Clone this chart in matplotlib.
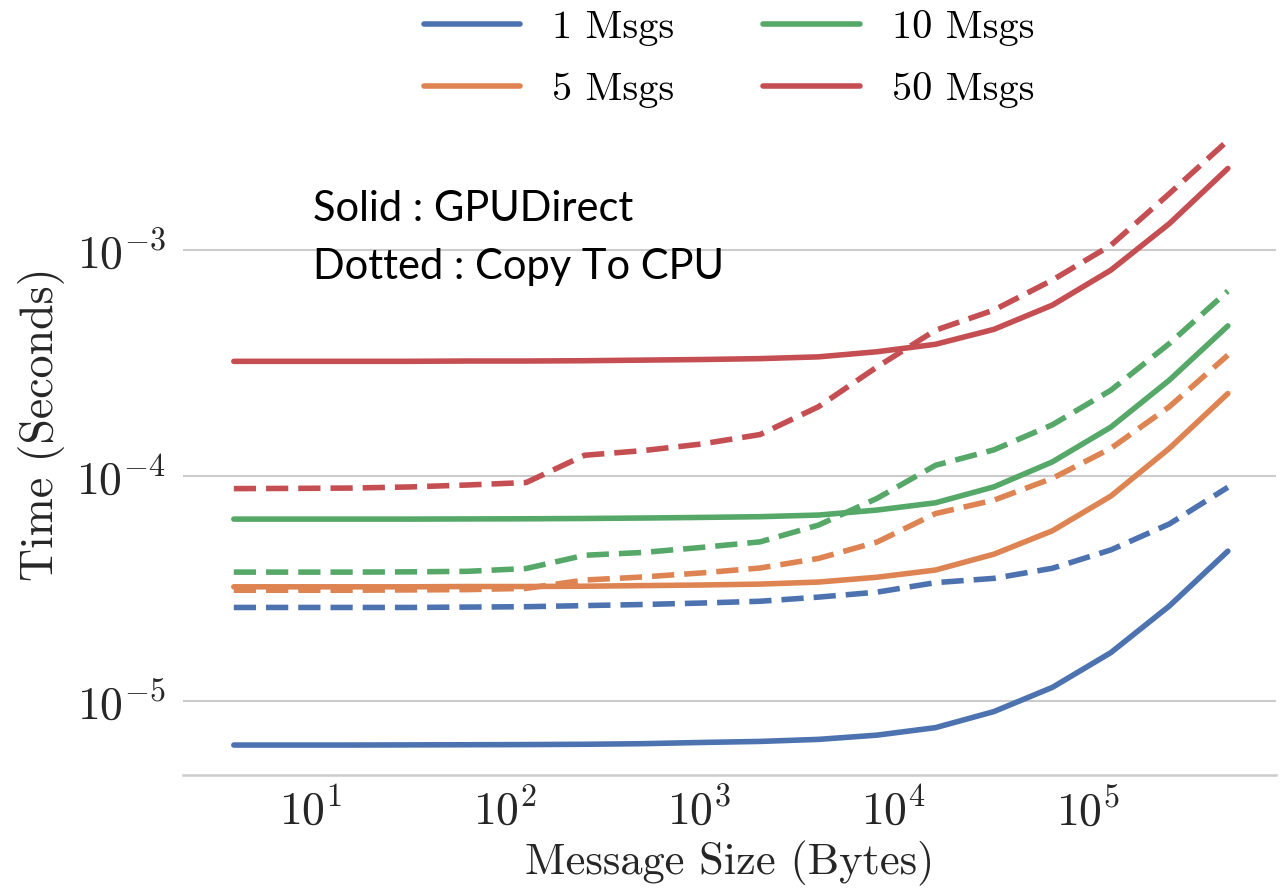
"""GPUDirect vs copy-to-CPU transfer time, log-log."""

import matplotlib

matplotlib.use("Agg")
import matplotlib.pyplot as plt

plt.rcParams["font.family"] = "serif"
plt.rcParams["font.serif"] = ["cmr10"]
plt.rcParams["mathtext.fontset"] = "cm"
plt.rcParams["axes.formatter.use_mathtext"] = True
plt.rcParams["axes.unicode_minus"] = True

MSG_SIZES = [4, 8, 16, 32, 64, 128, 256, 512, 1024, 2048, 4096, 8192,
             16384, 32768, 65536, 131072, 262144, 524288]

GPU_1 = [6.38e-6, 6.38e-6, 6.38e-6, 6.39e-6, 6.40e-6, 6.41e-6, 6.43e-6, 6.47e-6, 6.55e-6,
         6.62e-6, 6.76e-6, 7.06e-6, 7.62e-6, 8.98e-6, 1.15e-5, 1.64e-5, 2.64e-5, 4.62e-5]
CPU_1 = [2.60e-5, 2.60e-5, 2.60e-5, 2.60e-5, 2.61e-5, 2.62e-5, 2.65e-5, 2.68e-5, 2.72e-5,
         2.77e-5, 2.89e-5, 3.04e-5, 3.35e-5, 3.50e-5, 3.88e-5, 4.68e-5, 6.10e-5, 8.87e-5]
GPU_5 = [3.21e-5, 3.21e-5, 3.21e-5, 3.21e-5, 3.22e-5, 3.22e-5, 3.23e-5, 3.25e-5, 3.27e-5,
         3.30e-5, 3.37e-5, 3.54e-5, 3.81e-5, 4.48e-5, 5.69e-5, 8.11e-5, 1.32e-4, 2.31e-4]
CPU_5 = [3.10e-5, 3.10e-5, 3.10e-5, 3.11e-5, 3.12e-5, 3.16e-5, 3.44e-5, 3.55e-5, 3.70e-5,
         3.89e-5, 4.29e-5, 5.07e-5, 6.78e-5, 7.78e-5, 9.72e-5, 1.32e-4, 2.02e-4, 3.42e-4]
GPU_10 = [6.41e-5, 6.41e-5, 6.41e-5, 6.41e-5, 6.42e-5, 6.43e-5, 6.45e-5, 6.48e-5, 6.52e-5,
          6.57e-5, 6.68e-5, 7.03e-5, 7.57e-5, 8.91e-5, 1.15e-4, 1.64e-4, 2.65e-4, 4.61e-4]
CPU_10 = [3.73e-5, 3.73e-5, 3.73e-5, 3.74e-5, 3.76e-5, 3.87e-5, 4.43e-5, 4.56e-5, 4.80e-5,
          5.08e-5, 6.03e-5, 7.92e-5, 1.11e-4, 1.30e-4, 1.68e-4, 2.39e-4, 3.85e-4, 6.58e-4]
GPU_50 = [3.21e-4, 3.21e-4, 3.21e-4, 3.21e-4, 3.22e-4, 3.22e-4, 3.23e-4, 3.25e-4, 3.27e-4,
          3.30e-4, 3.36e-4, 3.54e-4, 3.82e-4, 4.45e-4, 5.70e-4, 8.15e-4, 1.31e-3, 2.30e-3]
CPU_50 = [8.75e-5, 8.77e-5, 8.80e-5, 8.90e-5, 9.08e-5, 9.31e-5, 1.23e-4, 1.29e-4, 1.38e-4,
          1.52e-4, 2.02e-4, 3.03e-4, 4.41e-4, 5.42e-4, 7.36e-4, 1.05e-3, 1.78e-3, 3.06e-3]

LABELS = ["1 Msgs", "5 Msgs", "10 Msgs", "50 Msgs"]
COLORS = ["#4C72B0", "#DD8452", "#55A868", "#C44E52"]
GRID_COLOR = "#cccccc"
LW = 4.0


def main() -> None:
    fig = plt.figure(figsize=(12.86, 8.92), dpi=100)
    ax = fig.add_axes([0.1423, 0.1312, 0.850, 0.787])

    series = [(GPU_1, CPU_1), (GPU_5, CPU_5), (GPU_10, CPU_10), (GPU_50, CPU_50)]
    for (gpu, cpu), label, color in zip(series, LABELS, COLORS):
        ax.plot(MSG_SIZES, gpu, color=color, lw=LW, label=label, solid_capstyle="round")
        ax.plot(MSG_SIZES, cpu, color=color, lw=LW, dashes=(4.0, 1.8))

    ax.set_xscale("log")
    ax.set_yscale("log")
    ax.set_xlim(2.19, 9.29e5)
    ax.set_ylim(4.70e-6, 6.10e-3)

    ax.grid(axis="y", color=GRID_COLOR, lw=1.5)
    ax.grid(axis="x", visible=False)
    ax.set_axisbelow(True)
    for side in ("top", "right", "left"):
        ax.spines[side].set_visible(False)
    ax.spines["bottom"].set_color(GRID_COLOR)
    ax.spines["bottom"].set_linewidth(1.8)
    ax.minorticks_off()
    ax.tick_params(axis="both", which="both", length=0, labelsize=33, colors="#262626")
    ax.tick_params(axis="y", pad=12)
    ax.tick_params(axis="x", pad=9)

    ax.set_xlabel("Message Size (Bytes)", fontsize=32, color="#262626", labelpad=5)
    ax.set_ylabel("Time (Seconds)", fontsize=33, color="#262626", labelpad=8)

    ax.legend(loc="upper center", bbox_to_anchor=(0.567, 1.03), bbox_transform=fig.transFigure,
              ncol=2, frameon=False, fontsize=29, handlelength=2.4, columnspacing=2.2,
              labelspacing=0.65, handletextpad=0.8)

    fig.text(313 / 1286, 1 - 190 / 892, "Solid : GPUDirect\nDotted : Copy To CPU",
             family=["Lato", "DejaVu Sans"], fontsize=30, color="black",
             va="top", ha="left", linespacing=1.65)

    fig.savefig("out.png", dpi=100, facecolor="white")
    plt.close(fig)


if __name__ == "__main__":
    main()
